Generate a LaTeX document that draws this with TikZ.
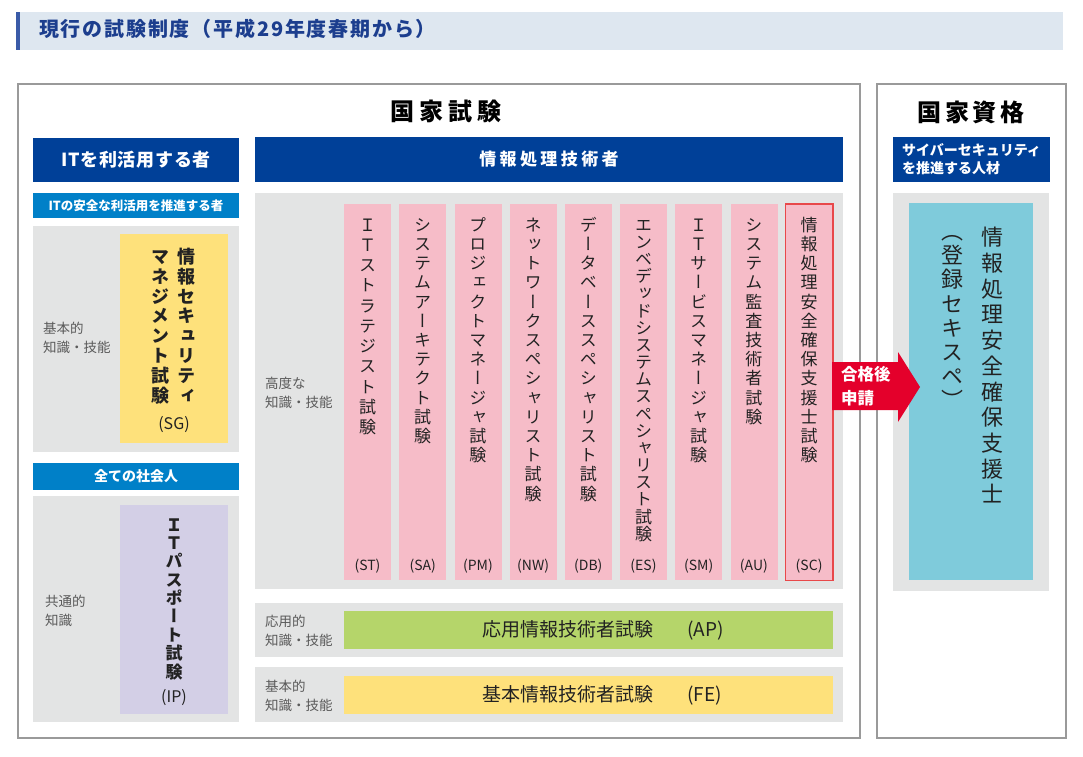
\documentclass[tikz,border=0pt]{standalone}
\usepackage{fontspec}
\setmainfont{Noto Sans CJK JP}
\newfontfamily\tatefont[RawFeature=+vert]{Noto Sans CJK JP}
\usetikzlibrary{positioning}

\definecolor{navy}{HTML}{004098}
\definecolor{skyblue}{HTML}{0080C8}
\definecolor{panelgray}{HTML}{E3E4E4}
\definecolor{pinkc}{HTML}{F6BCC8}
\definecolor{scred}{HTML}{E8484A}
\definecolor{sgyellow}{HTML}{FEE17B}
\definecolor{iplilac}{HTML}{D3CFE6}
\definecolor{apgreen}{HTML}{B5D56A}
\definecolor{cyanbox}{HTML}{7FCBDB}
\definecolor{arrowred}{HTML}{E4002B}
\definecolor{bandbg}{HTML}{DEE7F0}
\definecolor{bandbar}{HTML}{3A5BA8}
\definecolor{titleblue}{HTML}{1C3E8E}
\definecolor{labelgray}{HTML}{5A5A5A}
\definecolor{framegray}{HTML}{9A9A9A}
\definecolor{ink}{HTML}{222222}

\makeatletter
\newcommand\tate[2][1.15]{%
  \edef\tate@list{#2}\def\tate@pitch{#1}%
  \vbox{\offinterlineskip\expandafter\tate@loop\expandafter{\tate@list}}}
\newcommand\tate@loop[1]{\@tfor\tch:=#1\do{%
  \hbox to 1em{\hss\vrule width\z@ height .88em depth \dimexpr\tate@pitch em-.88em\relax\tch\hss}}}
\makeatother

\tikzset{
  panel/.style={fill=panelgray, inner sep=0pt, outer sep=0pt, anchor=north west},
  band/.style={fill=#1, text=white, inner sep=0pt, outer sep=0pt, anchor=north west},
  frame/.style={draw=framegray, line width=1.5pt, inner sep=0pt, anchor=north west},
  examcol/.style={fill=pinkc, minimum width=47, minimum height=376, inner sep=0pt, anchor=north west},
  vert/.style={anchor=north, inner sep=0pt, text=ink},
  side/.style={text=labelgray, font=\fontsize{13.5}{19}\selectfont, align=left, anchor=west, inner sep=0pt},
  abbr/.style={text=ink, font=\fontsize{14}{14}\selectfont, inner sep=0pt}
}

\begin{document}
\begin{tikzpicture}[x=1pt,y=-1pt]
  \useasboundingbox (0,0) rectangle (1083,756);
  \fill[white] (0,0) rectangle (1083,756);
  \fill[bandbg] (16,12) rectangle (1063,50);
  \fill[bandbar] (16,12) rectangle (20,50);
  \node[anchor=west, inner sep=0pt, text=titleblue, font=\fontsize{20}{20}\selectfont\bfseries\addfontfeature{LetterSpace=9}] (title) at (39,29) {現行の試験制度（平成29年度春期から）};

  \node[frame, minimum width=842, minimum height=654] (exam) at (17,83) {};
  \node[frame, minimum width=189, minimum height=654] (qual) at (876,83) {};
  \node[font=\fontsize{24}{24}\selectfont\bfseries\addfontfeature{LetterSpace=20}] (examtitle) at (446,111) {国家試験};
  \node[font=\fontsize{24}{24}\selectfont\bfseries\addfontfeature{LetterSpace=16}] (qualtitle) at (971,112) {国家資格};

  \node[band=navy, minimum width=206, minimum height=44, font=\fontsize{18}{18}\selectfont\bfseries\addfontfeature{LetterSpace=4}] (users) at (33,138) {ITを利活用する者};
  \node[band=navy, minimum width=588, minimum height=45, font=\fontsize{17}{17}\selectfont\bfseries\addfontfeature{LetterSpace=20}] (engineers) at (255,137) {情報処理技術者};
  \node[band=navy, minimum width=157, minimum height=45, align=left, font=\fontsize{14}{18}\selectfont\bfseries] (cyber) at (893,137) {サイバーセキュリティ\\を推進する人材};
  \node[band=skyblue, minimum width=206, minimum height=25, font=\fontsize{12.5}{12.5}\selectfont\bfseries] (promoters) at (33,193) {ITの安全な利活用を推進する者};
  \node[band=skyblue, minimum width=206, minimum height=27, font=\fontsize{14}{14}\selectfont\bfseries] (everyone) at (33,463) {全ての社会人};

  \node[panel, minimum width=206, minimum height=226] (sgpanel) at (33,226) {};
  \node[panel, minimum width=206, minimum height=226] (ippanel) at (33,496) {};
  \node[panel, minimum width=588, minimum height=396] (hipanel) at (255,193) {};
  \node[panel, minimum width=588, minimum height=54] (appanel) at (255,603) {};
  \node[panel, minimum width=588, minimum height=55] (fepanel) at (255,667) {};
  \node[panel, minimum width=156, minimum height=398] (regpanel) at (893,193) {};

  \node[panel, fill=sgyellow, minimum width=108, minimum height=209] (sg) at (120,234) {};
  \node[panel, fill=iplilac, minimum width=108, minimum height=209] (ip) at (120,505) {};
  \node[panel, fill=apgreen, minimum width=489, minimum height=38] (ap) at (344,611) {};
  \node[panel, fill=sgyellow, minimum width=489, minimum height=38] (fe) at (344,676) {};
  \node[panel, fill=cyanbox, minimum width=124, minimum height=377] (rss) at (909,203) {};

  \node[side] (sg-lv) at (43,338) {基本的\\知識・技能};
  \node[side] (ip-lv) at (45,611) {共通的\\知識};
  \node[side] (hi-lv) at (265,393) {高度な\\知識・技能};
  \node[side] (ap-lv) at (265,631) {応用的\\知識・技能};
  \node[side] (fe-lv) at (265,696) {基本的\\知識・技能};

  \node[vert, font=\fontsize{18}{18}\tatefont\bfseries] (sg-a) at (186,247) {\tate[1.11]{情報セキュリティ}};
  \node[vert, font=\fontsize{18}{18}\tatefont\bfseries] (sg-b) at (160,247) {\tate[1.11]{マネジメント試験}};
  \node[abbr, font=\fontsize{16}{16}\selectfont] (sg-ab) at (174,425) {(SG)};
  \node[vert, font=\fontsize{17}{17}\tatefont\bfseries] (ip-a) at (174,516) {\tate[1.08]{ＩＴパスポート試験}};
  \node[abbr, font=\fontsize{16}{16}\selectfont] (ip-ab) at (174,698) {(IP)};

  \foreach \ab/\exam/\pitch [count=\i from 0] in {
      ST/ＩＴストラテジスト試験/1.19, SA/システムアーキテクト試験/1.13,
      PM/プロジェクトマネージャ試験/1.13, NW/ネットワークスペシャリスト試験/1.13,
      DB/データベーススペシャリスト試験/1.13, ES/エンベデッドシステムスペシャリスト試験/1.01,
      SM/ＩＴサービスマネージャ試験/1.13, AU/システム監査技術者試験/1.13,
      SC/情報処理安全確保支援士試験/1.13}{
    \node[examcol] (\ab) at (344+55.2*\i,204) {};
    \node[vert, font=\fontsize{17}{17}\tatefont] (\ab-name) at (367.5+55.2*\i,216) {\tate[\pitch]{\exam}};
    \node[abbr] (\ab-abbr) at (367.5+55.2*\i,566) {(\ab)};
  }
  \draw[scred, line width=1.5pt] (SC.north west) rectangle (SC.south east);

  \node[anchor=west, inner sep=0pt, text=ink, font=\fontsize{19}{19}\selectfont] (ap-name) at (482,630) {応用情報技術者試験\hspace{1.8em}(AP)};
  \node[anchor=west, inner sep=0pt, text=ink, font=\fontsize{19}{19}\selectfont] (fe-name) at (482,695) {基本情報技術者試験\hspace{1.8em}(FE)};

  \node[vert, font=\fontsize{22}{22}\tatefont] (rss-a) at (992,226) {\tate[1.17]{情報処理安全確保支援士}};
  \node[vert, font=\fontsize{22}{22}\tatefont] (rss-b) at (952,220) {\tate[1.1]{（登録セキスペ）}};

  \fill[arrowred] (832,362) -- (898,362) -- (898,352) -- (920,387) -- (898,422) -- (898,410) -- (832,410) -- cycle;
  \node[anchor=west, inner sep=0pt, text=white, align=left, font=\fontsize{16.5}{24}\selectfont\bfseries] (apply) at (841,386) {合格後\\申請};
\end{tikzpicture}
\end{document}
